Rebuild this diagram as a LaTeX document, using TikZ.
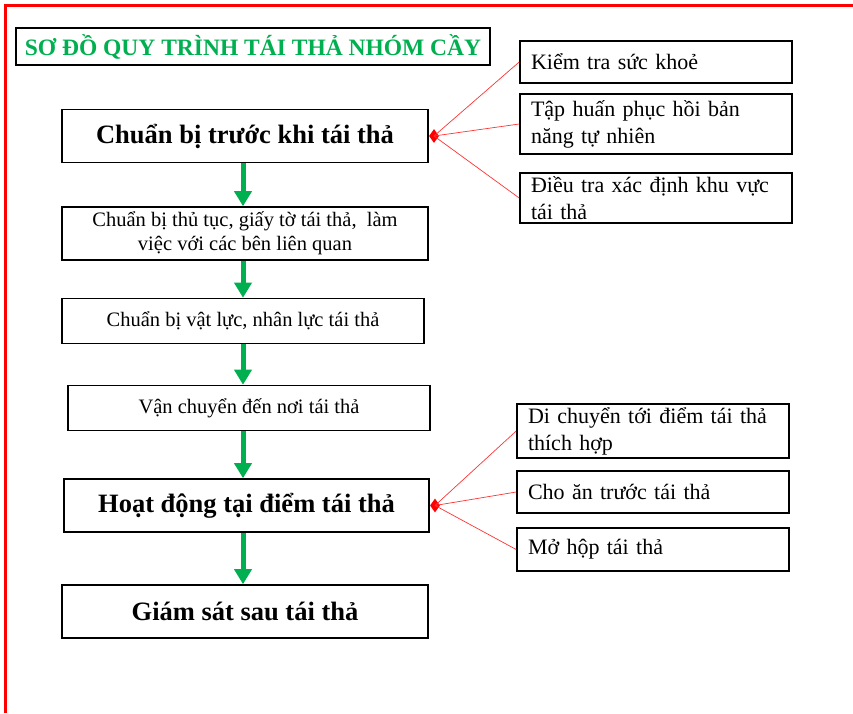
\documentclass[tikz,border=0pt]{standalone}
\usepackage{fontspec}
\setmainfont{Liberation Serif}
\usetikzlibrary{arrows.meta,shapes.geometric}
\definecolor{wordgreen}{RGB}{0,176,80}
\tikzset{
  stepbox/.style={draw, line width=1.6pt, inner sep=2pt, align=center, font=\fontsize{20.5}{24}\selectfont},
  bigbox/.style={stepbox, font=\bfseries\fontsize{26.5}{30}\selectfont},
  sidebox/.style={draw, line width=1.6pt, text width=250pt, inner xsep=11pt, inner ysep=2pt, align=left, font=\fontsize{22}{27}\selectfont},
  reddot/.style={diamond, fill=red, inner sep=0pt, minimum width=10pt, minimum height=14pt},
  flow/.style={-{Triangle[width=17pt,length=15pt]}, line width=5pt, wordgreen},
  twig/.style={red!80, line width=0.7pt},
}
\begin{document}
\begin{tikzpicture}[x=1pt,y=-1pt]
\useasboundingbox (0,0) rectangle (853,713);
\draw[red, line width=3pt] (5,713) -- (5,5) -- (853,5);

\node[draw, line width=1.6pt, minimum width=474pt, minimum height=37pt, text=wordgreen, font=\bfseries\fontsize{23.5}{26}\selectfont] (title) at (253,46.5) {SƠ ĐỒ QUY TRÌNH TÁI THẢ NHÓM CẦY};

\node[bigbox, minimum width=366pt, minimum height=53pt] (b1) at (245,136) {Chuẩn bị trước khi tái thả};
\node[stepbox, minimum width=366pt, minimum height=53pt] (b2) at (245,233.5) {Chuẩn bị thủ tục, giấy tờ tái thả,\ \ làm\\việc với các bên liên quan};
\node[stepbox, minimum width=362pt, minimum height=45pt] (b3) at (243,321) {Chuẩn bị vật lực, nhân lực tái thả};
\node[stepbox, minimum width=362pt, minimum height=45pt] (b4) at (249,408) {Vận chuyển đến nơi tái thả};
\node[bigbox, minimum width=365pt, minimum height=53pt] (b5) at (246.5,505.5) {Hoạt động tại điểm tái thả};
\node[bigbox, minimum width=366pt, minimum height=53pt] (b6) at (245,611.5) {Giám sát sau tái thả};

\node[sidebox, minimum height=42pt] (r1) at (656,62) {Kiểm tra sức khoẻ};
\node[sidebox, minimum height=60pt] (r2) at (656,124) {Tập huấn phục hồi bản\\năng tự nhiên};
\node[sidebox, minimum height=50pt] (r3) at (656,198) {Điều tra xác định khu vực\\tái thả};

\node[sidebox, minimum height=54pt] (s1) at (653,431) {Di chuyển tới điểm tái thả\\thích hợp};
\node[sidebox, minimum height=42pt] (s2) at (653,492) {Cho ăn trước tái thả};
\node[sidebox, minimum height=43pt] (s3) at (653,549.5) {Mở hộp tái thả};

\coordinate (axis) at (243,0);
\foreach \a/\b in {b1/b2, b2/b3, b3/b4, b4/b5, b5/b6}
  \draw[flow] (\a.south -| axis) -- (\b.north -| axis);

\node[reddot, anchor=west] (d1) at (b1.east) {};
\node[reddot, anchor=west] (d2) at (b5.east) {};
\foreach \s in {r1, r2, r3}
  \draw[twig] (d1.center) -- (\s.west);
\foreach \s in {s1, s2, s3}
  \draw[twig] (d2.center) -- (\s.west);
\end{tikzpicture}
\end{document}
